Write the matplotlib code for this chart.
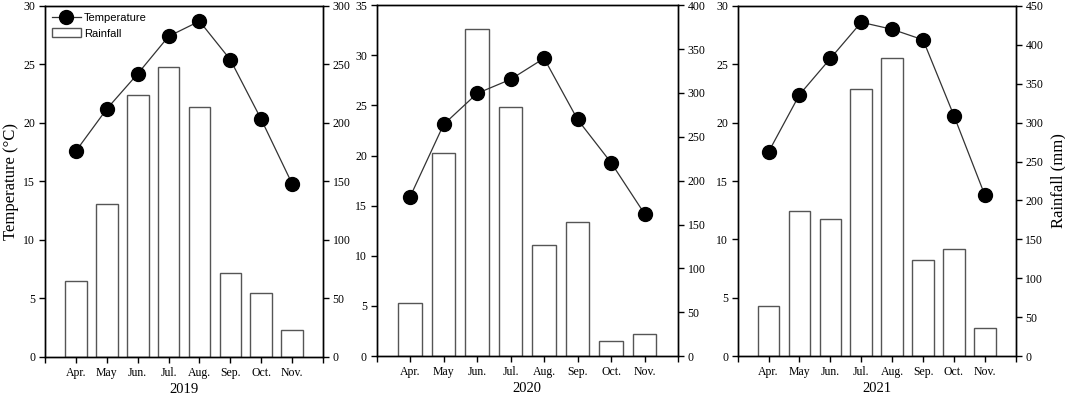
import matplotlib
matplotlib.use("Agg")
import matplotlib.pyplot as plt
import numpy as np

months = ["Apr.", "May", "Jun.", "Jul.", "Aug.", "Sep.", "Oct.", "Nov."]
years = ["2019", "2020", "2021"]

temp_2019 = [17.6, 21.2, 24.2, 27.4, 28.7, 25.4, 20.3, 14.8]
rain_2019 = [65, 131, 224, 248, 214, 72, 55, 23]
temp_2020 = [15.9, 23.1, 26.2, 27.6, 29.7, 23.6, 19.3, 14.2]
rain_2020 = [60, 231, 373, 284, 127, 153, 17.5, 25]
temp_2021 = [17.5, 22.4, 25.5, 28.6, 28.0, 27.1, 20.6, 13.8]
rain_2021 = [65, 186, 176, 343, 383, 123, 138, 36]

temps = [temp_2019, temp_2020, temp_2021]
rains = [rain_2019, rain_2020, rain_2021]
temp_lims = [30, 35, 30]
rain_lims = [300, 400, 450]

plt.rcParams['font.family'] = ['Liberation Serif', 'DejaVu Serif']

fig = plt.figure(figsize=(10.65, 3.97), dpi=100)
positions = [
    [0.0423, 0.101, 0.261, 0.884],
    [0.3537, 0.103, 0.2829, 0.884],
    [0.6927, 0.103, 0.261, 0.882],
]

x = np.arange(len(months))
for i in range(3):
    ax = fig.add_axes(positions[i])
    ax2 = ax.twinx()
    ax.set_zorder(ax2.get_zorder() + 1)
    ax.patch.set_visible(False)
    bars = ax2.bar(x, rains[i], width=0.7, facecolor="white", edgecolor="#555555",
                   linewidth=1.0, label="Rainfall")
    line, = ax.plot(x, temps[i], color="#333333", linewidth=0.9, marker="o",
                    markersize=10, markerfacecolor="black", markeredgecolor="black",
                    label="Temperature")
    ax.set_xlim(-1, 8)
    ax.set_ylim(0, temp_lims[i])
    ax2.set_ylim(0, rain_lims[i])
    ax.set_yticks(np.arange(0, temp_lims[i] + 0.1, 5))
    ax2.set_yticks(np.arange(0, rain_lims[i] + 0.1, 50))
    ax.set_xticks(list(x) + [-1, 8])
    ax.set_xticklabels(months + ["", ""])
    for a in (ax, ax2):
        a.tick_params(direction="out", length=4, width=1, labelsize=8.5, pad=3)
        for s in a.spines.values():
            s.set_linewidth(1.0)
    ax.set_xlabel(years[i], fontsize=10.5, labelpad=3)
    if i == 0:
        ax.set_ylabel("Temperature (\u00b0C)", fontsize=12, labelpad=3)
        ax.legend([line, bars], ["Temperature", "Rainfall"], loc="upper left",
                  frameon=False, prop={"family": "Liberation Sans", "size": 8},
                  handlelength=2.6, handleheight=0.9, borderaxespad=0.4,
                  labelspacing=0.45, handletextpad=0.3, borderpad=0.2)
    if i == 2:
        ax2.set_ylabel("Rainfall (mm)", fontsize=12, labelpad=5)

fig.savefig("out.png", dpi=100)
